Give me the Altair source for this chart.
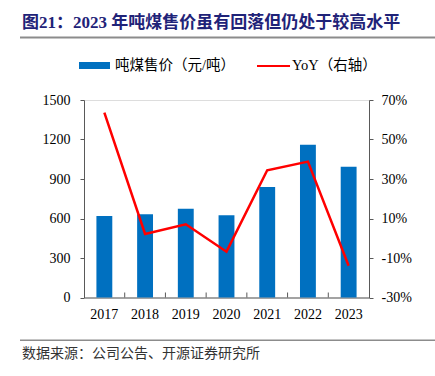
import altair as alt
import pandas as pd

years = ["2017", "2018", "2019", "2020", "2021", "2022", "2023"]
price = [619, 632, 674, 624, 839, 1160, 993]
yoy = [63.6, 2.2, 7.1, -6.8, 34.4, 38.8, -13.9]

title_text = "图21：2023 年吨煤售价虽有回落但仍处于较高水平"
source_text = "数据来源：公司公告、开源证券研究所"
legend_bar = "吨煤售价（元/吨）"
legend_line = "YoY（右轴）"

W, H = 285, 197.5
SERIF = "Liberation Serif, Noto Sans CJK SC"
CJK = "Noto Sans CJK SC"
AXIS_COLOR = "#595959"

df = pd.DataFrame({"year": years, "price": price, "yoy": yoy})

xenc = alt.X("year:N", sort=years, title=None,
             scale=alt.Scale(paddingInner=0, paddingOuter=0),
             axis=alt.Axis(labelAngle=0, tickSize=0, labelPadding=10, labelFont=SERIF,
                           labelFontSize=14, labelColor="#000000", domainColor=AXIS_COLOR))

bars = alt.Chart(df).mark_bar(width=alt.RelativeBandSize(0.39), color="#0070C0").encode(
    x=xenc,
    y=alt.Y("price:Q", title=None,
            scale=alt.Scale(domain=[0, 1500], nice=False),
            axis=alt.Axis(orient="left", values=[0, 300, 600, 900, 1200, 1500], grid=False,
                          format="d",
                          tickSize=4, labelPadding=10, labelFont=SERIF, labelFontSize=14,
                          labelColor="#000000", domainColor=AXIS_COLOR, tickColor=AXIS_COLOR)),
)

line = alt.Chart(df).mark_line(color="#FF0000", strokeWidth=2.5).encode(
    x=alt.X("year:N", sort=years),
    y=alt.Y("yoy:Q", title=None,
            scale=alt.Scale(domain=[-30, 70], nice=False, zero=False),
            axis=alt.Axis(orient="right", values=[-30, -10, 10, 30, 50, 70], grid=False,
                          tickSize=4, labelPadding=8, labelFont=SERIF, labelFontSize=14,
                          labelColor="#000000", domainColor=AXIS_COLOR, tickColor=AXIS_COLOR,
                          labelExpr="datum.value + '%'")),
)

ticks = alt.Chart(df[df["year"] != years[0]]).mark_rule(color=AXIS_COLOR, strokeWidth=1).encode(
    x=alt.X("year:N", sort=years, bandPosition=0),
    y=alt.value(H - 5),
    y2=alt.value(H),
)

one = pd.DataFrame({"t": [0]})

title = alt.Chart(pd.DataFrame({"t": [title_text]})).mark_text(
    align="left", baseline="middle", font=SERIF, fontSize=17, fontWeight="bold", color="#1F2378"
).encode(x=alt.value(-62), y=alt.value(-77), text="t:N")

top_rule = alt.Chart(one).mark_rule(color="#8C8C8C", strokeWidth=2).encode(
    x=alt.value(-64), x2=alt.value(351), y=alt.value(-62.5))

bottom_rule = alt.Chart(one).mark_rule(color="#8C8C8C", strokeWidth=1.5).encode(
    x=alt.value(-64), x2=alt.value(351), y=alt.value(240.3))

source = alt.Chart(pd.DataFrame({"t": [source_text]})).mark_text(
    align="left", baseline="middle", font=CJK, fontSize=14, color="#333333"
).encode(x=alt.value(-62), y=alt.value(253.5), text="t:N")

leg_rect = alt.Chart(one).mark_rect(color="#0070C0").encode(
    x=alt.value(-5), x2=alt.value(26), y=alt.value(-38), y2=alt.value(-31))
leg_text1 = alt.Chart(pd.DataFrame({"t": [legend_bar]})).mark_text(
    align="left", baseline="middle", font=SERIF, fontSize=14.5, color="#000000"
).encode(x=alt.value(31), y=alt.value(-34), text="t:N")
leg_line = alt.Chart(one).mark_rule(color="#FF0000", strokeWidth=2).encode(
    x=alt.value(173), x2=alt.value(206), y=alt.value(-34))
leg_text2 = alt.Chart(pd.DataFrame({"t": [legend_line]})).mark_text(
    align="left", baseline="middle", font=SERIF, fontSize=14.5, color="#000000"
).encode(x=alt.value(208), y=alt.value(-34), text="t:N")

chart = alt.layer(
    bars, line, ticks, title, top_rule, bottom_rule, source,
    leg_rect, leg_text1, leg_line, leg_text2
).resolve_scale(y="independent").properties(
    width=W, height=H,
    autosize=alt.AutoSizeParams(type="none"),
    padding={"left": 84, "top": 100, "right": 66, "bottom": 78.5},
).configure_view(stroke=None).configure(background="#FFFFFF")

chart.save("out.html", embed_options={"renderer": "svg", "actions": False})
